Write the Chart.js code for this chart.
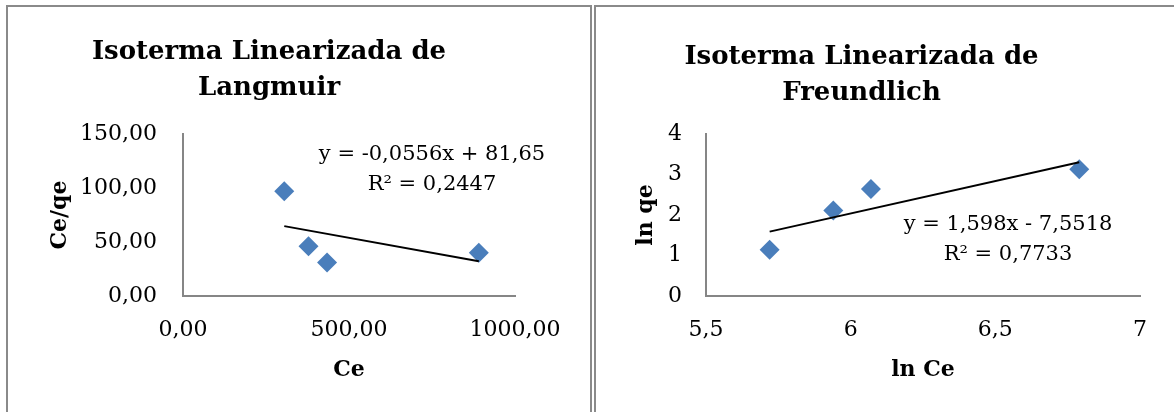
<!DOCTYPE html>
<html lang="es">
<head>
<meta charset="UTF-8">
<script src="https://cdn.jsdelivr.net/npm/chart.js@4.4.0/dist/chart.umd.min.js"></script>
<title>Isotermas Linearizadas</title>
<style>
  body { margin: 0; background: #fff; width: 1174px; height: 412px; overflow: hidden; position: relative; }
  .frame { position: absolute; top: 5px; height: 430px; border: 2px solid #8a8a8a; box-sizing: border-box; }
  .holder { position: absolute; top: 8px; height: 404px; }
</style>
</head>
<body>
<div class="frame" style="left:6px;width:586px"></div>
<div class="frame" style="left:594px;width:620px"></div>
<div class="holder" style="left:8px;width:582px"><canvas id="langmuir"></canvas></div>
<div class="holder" style="left:569px;width:605px"><canvas id="freundlich"></canvas></div>

<script>
// Langmuir: Ce vs Ce/qe
let langCe = [305, 378, 434, 891];
let langCeQe = [97, 46, 31, 40];
let langTrendX = [305, 891];
let langTrendY = [64.7, 32.1];
let langXTicks = ['0,00', '500,00', '1000,00'];
let langYTicks = ['0,00', '50,00', '100,00', '150,00'];
let langEq = ['y = -0,0556x + 81,65', 'R² = 0,2447'];

// Freundlich: ln Ce vs ln qe
let freuLnCe = [5.72, 5.94, 6.07, 6.79];
let freuLnQe = [1.14, 2.11, 2.64, 3.13];
let freuTrendX = [5.72, 6.79];
let freuTrendY = [1.59, 3.30];
let freuXTicks = ['5,5', '6', '6,5', '7'];
let freuYTicks = ['0', '1', '2', '3', '4'];
let freuEq = ['y = 1,598x - 7,5518', 'R² = 0,7733'];

const serif = '"DejaVu Serif", serif';
const blue = '#4a7ebb';
const axisGray = '#868686';

// trendline equation text
const eqPlugin = {
  id: 'eqLabel',
  afterDatasetsDraw(chart, args, opts) {
    const ctx = chart.ctx;
    ctx.save();
    ctx.font = '21px ' + serif;
    ctx.fillStyle = '#000';
    ctx.textAlign = 'center';
    ctx.textBaseline = 'middle';
    opts.lines.forEach((t, i) => ctx.fillText(t, opts.x, opts.y + i * opts.gap));
    ctx.restore();
  }
};

function toPoints(xs, ys) {
  return xs.map((x, i) => ({ x: x, y: ys[i] }));
}

function buildChart(id, p) {
  return new Chart(document.getElementById(id), {
    type: 'scatter',
    data: {
      datasets: [
        {
          data: toPoints(p.tx, p.ty),
          showLine: true,
          borderColor: '#000',
          borderWidth: 2,
          pointRadius: 0,
          pointHoverRadius: 0
        },
        {
          data: toPoints(p.xs, p.ys),
          pointStyle: 'rectRot',
          pointRadius: 10,
          pointHoverRadius: 10,
          backgroundColor: blue,
          borderWidth: 0
        }
      ]
    },
    options: {
      animation: false,
      responsive: true,
      maintainAspectRatio: false,
      layout: { padding: { left: p.padLeft, right: p.padRight, top: 0, bottom: 0 } },
      plugins: {
        legend: { display: false },
        tooltip: { enabled: false },
        title: {
          display: true,
          text: p.title,
          color: '#000',
          font: { family: serif, size: 26, weight: 'bold', lineHeight: '36px' },
          padding: { top: p.titleTop, bottom: p.titleBottom }
        },
        eqLabel: { lines: p.eq, x: p.eqX, y: p.eqY, gap: 30 }
      },
      scales: {
        x: {
          type: 'linear',
          min: p.xMin, max: p.xMax,
          ticks: {
            stepSize: p.xStep,
            callback: (v, i) => p.xTicks[i],
            padding: 21,
            color: '#000',
            font: { family: serif, size: 22 }
          },
          grid: { display: false, drawTicks: false },
          border: { color: axisGray, width: 2 },
          title: {
            display: true, text: p.xTitle, color: '#000',
            font: { family: serif, size: 22, weight: 'bold' },
            padding: { top: 0, bottom: 29 }
          },
          afterFit: s => { s.height = 116; }
        },
        y: {
          min: p.yMin, max: p.yMax,
          ticks: {
            stepSize: p.yStep,
            callback: (v, i) => p.yTicks[i],
            padding: p.yTickPad,
            color: '#000',
            font: { family: serif, size: 22 }
          },
          grid: { display: false, drawTicks: false },
          border: { color: axisGray, width: 2 },
          title: {
            display: true, text: p.yTitle, color: '#000',
            font: { family: serif, size: 22, weight: 'bold' },
            padding: { top: p.yTitlePad, bottom: 0 }
          },
          afterFit: s => { s.width = p.yWidth; }
        }
      }
    },
    plugins: [eqPlugin]
  });
}

buildChart('langmuir', {
  title: ['Isoterma Linearizada de', 'Langmuir'],
  xs: langCe, ys: langCeQe, tx: langTrendX, ty: langTrendY,
  xTicks: langXTicks, yTicks: langYTicks, eq: langEq,
  xMin: 0, xMax: 1000, xStep: 500,
  yMin: 0, yMax: 150, yStep: 50,
  xTitle: 'Ce', yTitle: 'Ce/qe',
  padLeft: 15, padRight: 75, yWidth: 160,
  titleTop: 26, titleBottom: 28,
  yTickPad: 26, yTitlePad: 24,
  eqX: 424, eqY: 147
});

buildChart('freundlich', {
  title: ['Isoterma Linearizada de', 'Freundlich'],
  xs: freuLnCe, ys: freuLnQe, tx: freuTrendX, ty: freuTrendY,
  xTicks: freuXTicks, yTicks: freuYTicks, eq: freuEq,
  xMin: 5.5, xMax: 7, xStep: 0.5,
  yMin: 0, yMax: 4, yStep: 1,
  xTitle: 'ln Ce', yTitle: 'ln qe',
  padLeft: 14, padRight: 34, yWidth: 123,
  titleTop: 31, titleBottom: 23,
  yTickPad: 24, yTitlePad: 50,
  eqX: 439, eqY: 217
});
</script>
</body>
</html>
